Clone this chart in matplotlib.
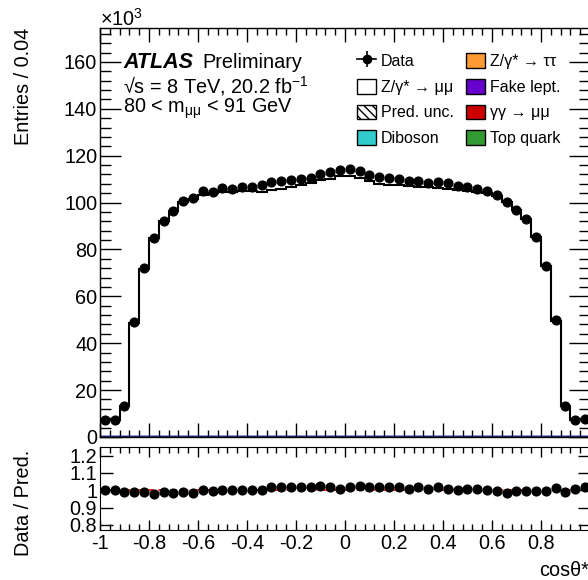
import numpy as np
import matplotlib
matplotlib.use("Agg")
import matplotlib.pyplot as plt
from matplotlib.lines import Line2D
from matplotlib.patches import Patch

plt.rcParams['font.family'] = ['Liberation Sans', 'DejaVu Sans']
plt.rcParams['mathtext.fontset'] = 'custom'
plt.rcParams['mathtext.rm'] = 'Liberation Sans'
plt.rcParams['mathtext.it'] = 'Liberation Sans:italic'
plt.rcParams['mathtext.bf'] = 'Liberation Sans:bold'

# cos(theta*) binning: 50 bins of width 0.04
bin_edges = np.linspace(-1.0, 1.0, 51)

# Observed events per bin (x10^3)
data = [7.3, 7.2, 13.3, 49.0, 72.0, 84.9, 92.3, 96.5, 100.5, 101.8,
        104.9, 104.5, 106.1, 105.9, 106.8, 106.8, 107.5, 108.6, 109.2, 109.5,
        110.1, 110.5, 112.1, 113.2, 113.9, 114.5, 113.6, 111.8, 111.1, 110.4,
        110.1, 109.4, 109.1, 108.5, 108.6, 108.2, 107.2, 106.5, 105.8, 105.1,
        103.2, 100.4, 96.8, 92.9, 85.2, 73.0, 49.8, 13.4, 7.1, 7.5]

# Z/gamma* -> mumu prediction (x10^3)
zmumu = [7.2, 7.1, 13.0, 48.5, 71.5, 84.5, 92.0, 96.3, 100.0, 101.5,
         103.2, 103.8, 104.2, 104.5, 104.7, 104.8, 104.5, 105.3, 105.8, 106.5,
         107.3, 108.2, 109.4, 109.8, 111.0, 111.2, 110.4, 109.0, 107.9, 107.5,
         107.2, 106.9, 106.6, 106.3, 106.0, 105.7, 105.3, 104.9, 104.4, 104.0,
         102.6, 100.2, 96.6, 92.8, 85.0, 72.8, 49.5, 13.2, 7.0, 7.3]

# Small backgrounds (x10^3), flat per bin
bkg_top = [0.05] * 50
bkg_diboson = [0.05] * 50
bkg_gamgam = [0.05] * 50
bkg_fake = [0.03] * 50
bkg_tautau = [0.02] * 50

# Data / prediction
ratio = [1.004, 1.000, 0.988, 0.988, 0.990, 0.981, 0.990, 0.986, 0.990, 0.986,
         1.000, 0.994, 1.000, 1.000, 1.004, 1.000, 1.000, 1.020, 1.016, 1.016,
         1.016, 1.016, 1.025, 1.016, 1.008, 1.020, 1.025, 1.016, 1.020, 1.016,
         1.020, 1.010, 1.016, 1.008, 1.016, 1.008, 1.004, 1.010, 1.008, 1.004,
         0.994, 0.986, 0.994, 0.994, 0.994, 0.994, 1.014, 0.988, 1.010, 1.020]

xtick_labels = ['-1', '-0.8', '-0.6', '-0.4', '-0.2', '0', '0.2', '0.4', '0.6', '0.8', '']

centers = 0.5 * (bin_edges[:-1] + bin_edges[1:])

W, H = 588, 580
FS = 14.3
fig = plt.figure(figsize=(W / 100, H / 100), dpi=100)

def px_axes(left, top, right, bottom):
    return fig.add_axes([left / W, 1 - bottom / H, (right - left) / W, (bottom - top) / H])

def fpos(x, y):
    return (x / W, 1 - y / H)

ax = px_axes(100, 28, 590, 437)
rax = px_axes(100, 447, 590, 530)

# stacked backgrounds
stack_order = [(bkg_top, '#339933'), (bkg_diboson, '#33cccc'), (bkg_gamgam, '#cc0000'),
               (bkg_fake, '#6600cc'), (bkg_tautau, '#ff9933')]
base = np.zeros(50)
for vals, col in stack_order:
    top = base + np.array(vals)
    ax.stairs(top, bin_edges, baseline=base, fill=True, color=col, zorder=1)
    ax.stairs(top, bin_edges, baseline=None, color='#1a237e', lw=1.6, zorder=2)
    base = top
total = base + np.array(zmumu)
ax.stairs(total, bin_edges, baseline=base, fill=True, color='white', zorder=1.5)
ax.stairs(total, bin_edges, baseline=None, color='black', lw=1.5, zorder=3)

ax.plot(centers, data, 'o', color='black', ms=6.3, zorder=4)

ax.set_xlim(-1, 1)
ax.set_ylim(0, 174.5)
ax.set_yticks(np.arange(0, 161, 20))
ax.set_yticks(np.arange(0, 175, 4), minor=True)
ax.set_xticks(np.arange(-1, 1.01, 0.2))
ax.set_xticks(np.arange(-1, 1.01, 0.04), minor=True)
ax.set_xticklabels([])
ax.tick_params(axis='both', which='both', direction='in', top=True, right=True,
               labelsize=FS, width=1.0)
ax.tick_params(axis='y', which='major', length=15, pad=2)
ax.tick_params(axis='y', which='minor', length=8)
ax.tick_params(axis='x', which='major', length=10)
ax.tick_params(axis='x', which='minor', length=5)
for s in ax.spines.values():
    s.set_linewidth(1.0)

# ratio panel
rax.axhline(1.0, color='red', lw=1.2, ls=(0, (4, 3)), zorder=1)
rax.plot(centers, ratio, 'o', color='black', ms=6.3, zorder=3)
rax.set_xlim(-1, 1)
rax.set_ylim(0.77, 1.25)
rax.set_yticks([0.8, 0.9, 1.0, 1.1, 1.2])
rax.set_yticklabels(['0.8', '0.9', '1', '1.1', '1.2'])
rax.set_xticks(np.arange(-1, 1.01, 0.2))
rax.set_xticklabels(xtick_labels)
rax.set_xticks(np.arange(-1, 1.01, 0.04), minor=True)
rax.tick_params(axis='both', which='both', direction='in', top=True, right=True,
                labelsize=FS, width=1.0)
rax.tick_params(axis='y', which='major', length=9, pad=2)
rax.tick_params(axis='x', which='major', length=7, pad=3)
rax.tick_params(axis='x', which='minor', length=4)

# axis titles
fig.text(*fpos(24, 28), 'Entries / 0.04', rotation=90, ha='center', va='top', fontsize=FS)
fig.text(*fpos(24, 503), 'Data / Pred.', rotation=90, ha='center', va='center', fontsize=FS)
fig.text(*fpos(589, 570), 'cosθ*', ha='right', va='center', fontsize=FS)
fig.text(*fpos(100, 19), r'$\times$10$^{3}$', ha='left', va='center', fontsize=FS)

# labels
fig.text(*fpos(123, 62), 'ATLAS', fontsize=15.5, fontweight='bold', fontstyle='italic',
         ha='left', va='center')
fig.text(*fpos(202, 62), 'Preliminary', fontsize=FS, ha='left', va='center')
fig.text(*fpos(123, 86), '√s = 8 TeV, 20.2 fb$^{-1}$', fontsize=FS, ha='left', va='center')
fig.text(*fpos(123, 109), r'80 < m$_{\mathrm{μμ}}$ < 91 GeV', fontsize=FS, ha='left', va='center')

# legend
data_handle = (Line2D([], [], color='black', lw=1.2, marker='o', ms=6),
               Line2D([], [], color='black', lw=0, marker='|', ms=12, mew=1.2))
handles = [data_handle,
           Patch(facecolor='white', edgecolor='black', lw=1.0),
           Patch(facecolor='white', edgecolor='black', hatch='\\\\\\\\', lw=1.0),
           Patch(facecolor='#33cccc', edgecolor='black', lw=1.0),
           Patch(facecolor='#ff9933', edgecolor='black', lw=1.0),
           Patch(facecolor='#6600cc', edgecolor='black', lw=1.0),
           Patch(facecolor='#cc0000', edgecolor='black', lw=1.0),
           Patch(facecolor='#339933', edgecolor='black', lw=1.0)]
labels = ['Data', 'Z/γ* → μμ', 'Pred. unc.', 'Diboson',
          'Z/γ* → ττ', 'Fake lept.', 'γγ → μμ', 'Top quark']
leg = fig.legend(handles, labels, ncol=2, loc='upper left',
                 bbox_to_anchor=fpos(357, 53), frameon=False, fontsize=11.5,
                 handlelength=1.2, handleheight=1.05, handletextpad=0.3,
                 labelspacing=0.62, columnspacing=0.75, borderpad=0, borderaxespad=0)

fig.savefig('out.png', dpi=100)
